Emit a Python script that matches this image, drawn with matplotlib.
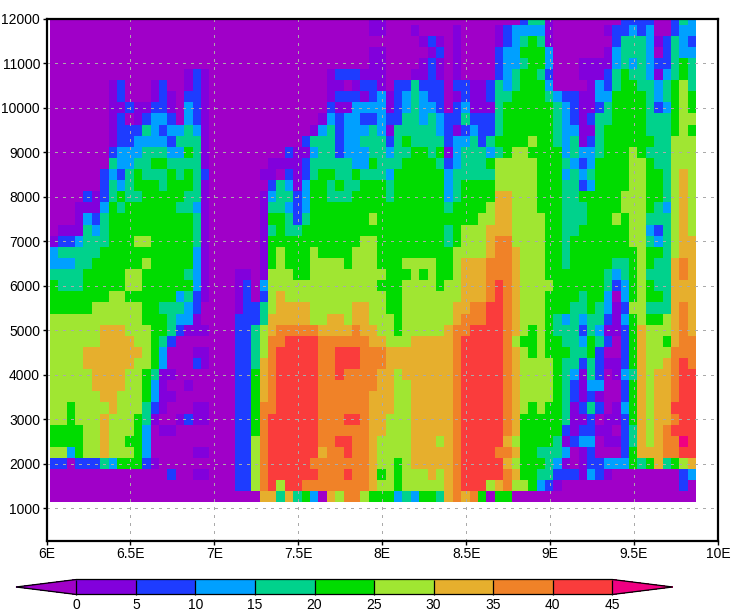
import numpy as np
import matplotlib
matplotlib.use('Agg')
import matplotlib.pyplot as plt
from matplotlib.colors import ListedColormap, BoundaryNorm

plt.rcParams['font.family'] = ['Liberation Sans Narrow', 'Liberation Sans']

# contour levels and colours (GrADS rainbow)
levels = [0, 5, 10, 15, 20, 25, 30, 35, 40, 45]
colors = ['#8200dc', '#1e3cff', '#00a0ff', '#00d28c', '#00dc00',
          '#a0e632', '#e6af2d', '#f08228', '#fa3c3c']
color_under = '#a000c8'
color_over = '#f00082'

lon_edges = 6.02 + 0.05 * np.arange(78)
height_edges = 12125 - 250 * np.arange(45)

# one row per height, top row first, written as "column:class" where the class changes
# class 0 is below 0, class 1 is 0-5, ... class 10 is above 45
rows = [
    "0:0 38:1 40:0 56:2 57:4 59:1 60:0 68:2 72:0 74:2 75:4 76:3",
    "0:0 38:1 40:0 43:1 44:0 48:1 49:0 53:1 54:2 55:3 59:1 60:0 66:1 67:2 69:3 70:2 71:3 72:0 74:2 75:3",
    "0:0 44:1 45:2 46:1 47:0 48:1 49:0 53:1 54:2 55:3 56:4 57:5 58:4 59:1 60:0 67:2 68:4 71:3 72:1 73:2 74:4 75:3 76:2",
    "0:0 38:1 40:0 45:1 46:2 47:0 48:1 49:0 53:2 54:3 56:5 59:3 60:0 66:1 67:3 68:4 71:3 72:0 73:2 74:4 75:3",
    "0:0 38:1 40:0 44:1 45:2 46:1 47:0 48:1 49:0 53:2 54:3 56:4 57:5 59:3 60:0 63:1 67:3 68:4 69:3 70:4 71:3 72:2 74:4 75:5 76:4",
    "0:0 16:1 17:2 18:1 19:0 33:1 34:2 37:1 40:0 43:1 45:2 46:1 47:0 48:1 49:0 53:2 54:3 55:4 56:5 58:4 59:2 60:0 63:1 66:2 67:4 68:5 69:4 71:3 72:1 73:3 74:4 75:5 76:4",
    "0:0 7:1 8:2 9:0 12:1 13:2 14:0 16:1 17:2 18:1 19:0 33:1 35:0 36:1 37:2 39:1 40:0 41:2 43:4 44:2 47:0 48:2 50:1 52:2 53:4 54:3 55:4 56:5 59:3 60:0 64:1 65:3 66:2 67:4 68:5 70:4 72:3 73:4 74:5 75:6 76:4",
    "0:0 7:1 8:2 9:0 12:1 13:2 14:1 15:0 16:2 18:1 19:0 33:1 34:2 37:1 38:2 39:3 40:1 41:2 42:3 43:4 44:3 45:2 47:0 48:1 49:2 50:1 52:2 53:4 55:5 59:4 60:3 61:2 63:1 65:3 67:5 71:4 72:3 73:4 74:5 75:6 76:5",
    "0:0 7:1 9:2 10:1 12:2 14:1 15:0 16:3 17:2 18:1 19:0 33:2 34:1 36:3 40:1 41:2 42:3 43:4 44:3 46:2 47:0 48:2 49:3 50:1 53:4 54:5 60:4 61:3 62:2 63:1 65:2 66:4 67:5 71:4 72:2 73:3 74:5 75:6 76:5",
    "0:0 7:1 8:2 9:0 10:1 11:2 12:3 14:2 15:0 16:3 17:2 18:1 19:0 32:1 33:3 34:2 35:3 37:2 39:3 40:2 42:4 44:3 45:4 46:3 47:2 49:4 50:2 53:4 54:5 60:4 61:3 62:2 63:1 64:2 65:4 67:5 71:4 74:5 75:6",
    "0:0 7:1 8:2 11:4 12:3 13:2 14:3 16:4 17:3 18:1 19:0 31:1 32:3 33:4 34:2 35:3 38:4 39:3 40:1 41:4 46:3 47:2 48:1 49:2 50:3 51:2 53:4 54:5 60:4 61:3 63:1 65:4 66:5 71:4 74:5 75:6 76:5",
    "0:0 7:1 8:2 10:3 14:2 15:4 18:1 19:0 30:2 31:4 34:2 35:3 37:4 40:2 41:4 42:5 43:4 47:2 48:3 50:4 51:2 52:4 53:5 57:6 58:5 60:4 61:3 62:4 63:1 64:2 65:4 66:5 72:4 74:6",
    "0:0 7:2 8:3 11:4 14:3 16:5 17:4 18:1 19:0 28:2 29:1 31:3 32:4 34:2 35:3 38:4 40:3 41:4 43:5 45:4 46:5 47:1 48:3 49:4 52:3 53:4 54:5 55:6 57:5 61:3 62:4 63:3 65:4 66:5 69:6 70:5 71:4 74:6",
    "0:0 7:4 8:3 10:4 12:5 14:4 18:1 19:0 26:1 30:2 31:4 36:3 38:5 39:4 42:5 46:4 47:2 48:3 49:4 52:5 53:6 58:5 61:4 62:3 63:2 64:3 65:5 69:6 71:5 72:4 74:6",
    "0:0 6:2 7:3 8:2 9:4 10:5 11:4 14:5 15:4 16:5 17:4 18:2 19:0 25:1 27:0 28:2 29:1 30:2 31:4 32:5 34:4 36:5 37:4 40:3 41:5 47:3 48:4 53:6 58:5 61:3 62:4 63:3 64:4 65:5 69:6 71:5 73:4 74:6 75:7 76:6",
    "0:0 6:2 7:4 8:3 9:4 10:5 13:4 14:5 17:4 18:1 19:0 26:2 27:4 28:3 29:1 30:3 31:5 33:4 34:5 35:4 37:5 40:4 41:5 47:3 48:4 49:5 53:6 58:5 61:4 63:2 64:3 65:5 69:6 71:5 73:4 74:6 75:7 76:6",
    "0:0 4:2 5:1 6:2 7:4 8:5 9:4 11:5 16:4 18:1 19:0 25:1 26:3 27:4 29:2 30:3 31:5 33:4 36:5 40:4 41:5 47:3 48:4 49:5 53:7 55:6 58:5 61:4 63:5 68:6 71:5 73:4 74:6 75:7 76:6",
    "0:0 3:1 6:3 7:5 8:4 9:5 15:4 17:3 18:1 19:0 25:1 26:4 28:3 29:2 30:3 31:5 47:4 48:5 52:6 53:7 55:6 58:5 61:4 64:5 68:6 71:5 72:4 73:3 74:6 75:7 76:6",
    "0:0 3:1 4:3 5:2 6:4 7:5 17:4 18:1 19:0 25:1 26:5 28:4 29:2 30:4 31:5 38:6 39:5 51:6 53:7 55:6 59:5 61:4 64:5 67:6 68:5 69:6 71:4 74:6 75:7 76:6",
    "0:0 1:1 4:4 5:3 6:4 7:5 17:4 18:1 19:0 25:1 26:4 27:5 28:4 30:5 47:4 48:5 49:6 52:7 55:6 59:5 61:4 63:5 69:6 71:3 72:2 73:4 74:6 75:7 76:6",
    "0:1 1:2 3:3 4:4 7:5 10:6 12:5 17:4 18:1 19:0 25:1 26:5 37:6 39:5 47:4 48:5 49:6 52:7 53:8 55:6 59:5 61:4 62:5 69:6 71:4 72:3 73:4 74:6 75:7",
    "0:3 1:4 6:5 17:3 18:1 19:0 25:1 26:5 27:6 28:5 31:6 32:5 36:6 39:5 48:6 52:7 53:8 55:7 56:6 59:5 61:4 62:5 70:6 71:5 73:4 74:6 75:7",
    "0:3 3:4 5:5 11:6 12:5 17:3 18:1 19:0 25:1 26:5 27:6 28:5 31:6 35:5 36:6 39:5 42:6 46:5 48:6 49:7 52:8 55:7 56:6 59:5 61:4 62:5 67:4 69:5 70:6 71:5 72:4 74:7 75:8 76:7",
    "0:4 4:5 9:6 11:5 16:4 17:3 18:1 19:0 22:1 24:0 25:1 26:6 29:5 31:6 40:5 43:6 44:5 45:6 46:5 48:6 49:7 52:8 55:7 56:6 59:5 66:4 67:3 68:4 69:5 70:6 71:4 74:7 75:8 76:7",
    "0:5 1:4 4:5 9:6 11:5 17:3 18:1 19:0 22:1 23:2 24:0 25:3 26:6 39:5 42:6 46:5 47:6 49:7 52:8 53:9 54:8 55:7 56:6 60:5 66:4 67:2 68:3 69:5 70:6 71:5 72:4 74:7",
    "0:5 7:6 9:5 15:3 16:4 17:2 18:1 19:0 22:1 23:2 24:0 25:2 26:6 27:7 28:6 40:5 42:6 49:7 52:8 53:9 54:8 55:7 56:6 59:5 63:4 64:5 66:3 67:0 68:3 69:5 70:6 71:5 73:4 74:7",
    "0:5 5:6 11:5 13:4 16:3 17:2 18:0 22:1 23:2 25:4 26:6 27:7 31:6 36:7 38:6 40:5 42:6 48:7 50:8 52:9 54:8 55:7 56:6 59:5 62:4 64:5 65:4 66:3 67:1 68:2 69:6 71:4 74:7 75:8 76:7",
    "0:6 11:5 14:4 15:3 17:1 18:0 22:2 25:4 26:7 31:6 33:7 35:6 36:7 38:6 41:5 42:6 48:7 49:8 52:9 54:8 55:7 56:6 59:5 60:4 61:3 62:4 63:3 64:4 66:2 67:1 68:3 69:5 70:6 71:5 73:6 74:7 75:8 76:7",
    "0:6 6:7 9:6 12:5 14:4 15:2 16:1 19:0 22:2 24:4 25:6 26:7 27:8 32:7 36:8 37:7 39:6 41:5 42:6 47:7 48:8 50:9 54:8 55:7 56:6 57:5 58:6 59:5 60:4 63:2 64:4 65:3 66:1 68:2 69:5 70:7 71:6 74:7 75:8 76:7",
    "0:6 6:7 10:6 12:5 13:4 14:2 15:0 22:2 24:4 25:6 26:8 28:9 32:8 38:7 40:6 43:7 48:8 49:9 54:8 55:6 56:5 58:6 59:5 61:4 63:3 64:5 65:4 66:2 67:0 68:2 69:5 70:7 71:6 73:5 74:7 75:8",
    "0:6 4:7 11:6 12:5 13:3 14:0 17:1 19:0 22:2 24:4 25:6 26:8 27:9 32:8 34:9 37:8 40:7 48:8 49:9 54:8 55:7 56:6 57:5 58:6 59:5 62:4 64:5 65:2 66:0 68:2 69:5 70:7 71:6 74:8",
    "0:6 4:7 10:6 12:5 13:3 14:0 17:2 18:1 19:0 22:2 24:4 25:7 26:8 27:9 32:8 34:9 37:8 40:7 48:8 49:9 54:8 55:7 56:6 60:5 61:4 63:2 64:4 65:2 66:1 68:2 69:5 70:7 71:6 73:7 74:8 75:9 76:8",
    "0:6 5:7 9:6 11:5 12:4 13:1 15:0 22:2 24:5 25:7 26:8 27:9 32:8 34:9 35:8 39:7 41:6 42:7 48:8 49:9 54:8 55:7 56:6 60:5 61:4 62:3 63:1 64:4 65:2 66:0 67:1 68:3 69:4 70:7 71:6 72:7 74:8 75:9",
    "0:6 5:7 9:6 11:5 12:3 13:1 14:0 16:1 17:0 22:2 24:5 25:7 26:8 27:9 32:8 39:7 41:6 43:7 48:8 49:9 54:8 55:7 56:6 60:5 61:4 62:2 63:1 64:3 66:0 68:2 69:5 70:7 71:6 72:7 74:8 75:9",
    "0:6 6:7 8:6 11:5 12:3 13:1 15:0 22:2 24:5 25:7 26:8 27:9 32:8 38:7 41:6 43:7 48:8 49:9 54:8 55:7 56:6 60:5 61:4 62:2 63:1 64:2 65:1 66:0 68:2 69:5 70:7 71:6 72:7 74:8 75:9",
    "0:6 2:5 3:6 7:7 8:6 11:4 12:2 13:1 14:0 17:1 19:0 22:2 24:5 25:8 27:9 32:8 38:7 41:6 43:7 48:8 49:9 54:8 55:7 56:6 57:5 58:6 59:5 61:4 62:1 63:2 64:4 65:2 66:0 67:1 68:3 69:5 70:7 71:6 72:7 74:9",
    "0:6 2:5 3:6 6:7 7:6 10:5 11:4 12:1 13:0 15:1 16:2 17:1 19:0 22:2 24:5 25:8 26:9 32:8 35:9 37:8 38:7 40:6 43:7 48:8 49:9 54:8 55:7 56:5 61:4 62:1 64:2 65:0 66:1 68:2 69:5 70:7 71:6 72:7 74:8 75:9",
    "0:5 4:6 6:7 7:6 10:5 11:3 12:0 13:1 15:0 22:2 24:5 25:8 26:9 32:8 38:7 40:6 43:7 48:8 49:9 54:8 55:7 56:5 61:2 62:1 63:2 65:1 67:0 68:2 69:4 70:7 71:6 72:7 73:8 74:9",
    "0:5 4:6 6:7 7:6 9:5 11:3 12:0 22:2 24:6 25:8 26:9 32:8 34:9 36:8 38:7 39:6 43:7 46:6 47:7 48:8 49:9 54:7 55:6 56:5 60:4 61:1 62:2 63:3 65:0 66:1 68:2 69:4 70:7 71:6 72:7 73:8 75:10 76:9",
    "0:6 2:3 3:5 4:6 6:7 7:6 10:5 11:3 12:0 17:1 19:0 22:2 24:6 25:8 26:9 32:7 33:8 35:9 36:8 38:7 39:6 43:7 48:8 49:9 53:8 55:7 56:5 58:4 61:3 62:0 63:1 64:2 65:0 68:2 69:5 70:7 73:8 75:9",
    "0:2 2:0 3:2 6:4 7:3 8:5 11:2 12:1 13:0 22:2 24:6 25:8 26:9 31:8 38:7 39:6 41:5 42:6 43:7 48:8 49:9 54:7 55:6 56:5 59:4 60:3 61:1 62:0 63:1 64:2 66:3 69:5 70:4 71:5 72:7 73:4 74:5 75:6 76:7",
    "0:0 14:2 15:0 17:1 19:0 22:2 24:6 25:8 26:9 32:8 35:9 36:8 38:7 39:5 40:6 41:5 42:6 45:7 46:6 47:7 48:8 49:9 54:8 55:7 56:5 58:4 60:2 63:1 64:3 65:2 66:1 67:0 75:2 76:3",
    "0:0 22:2 24:6 25:8 26:9 27:6 28:9 30:8 38:7 39:6 41:5 42:6 47:7 48:8 49:9 52:6 53:7 54:8 55:6 57:5 58:3 59:2 60:1 61:0 75:2 76:0",
    "0:0 25:7 27:4 28:7 29:4 30:5 31:3 32:0 33:7 34:6 35:8 37:6 38:5 41:3 42:4 43:3 44:5 46:4 47:7 48:8 49:7 50:8 51:5 52:0 53:5 55:0",
]


def expand(row, n=77):
    out = np.zeros(n)
    for tok in row.split():
        col, cls = tok.split(':')
        out[int(col):] = int(cls) * 5 - 2.5
    return out


values = np.array([expand(r) for r in rows])

cmap = ListedColormap(colors)
cmap.set_under(color_under)
cmap.set_over(color_over)
norm = BoundaryNorm(levels, cmap.N)

W, H = 738, 612
fig = plt.figure(figsize=(W / 100, H / 100), dpi=100)
ax = fig.add_axes([46.5 / W, 1 - 541 / H, 671.5 / W, 522 / H])
mesh = ax.pcolormesh(lon_edges, height_edges, values, cmap=cmap, norm=norm,
                     antialiased=False, linewidth=0, rasterized=True)

ax.set_xlim(6, 10)
ax.set_ylim(258, 12000)
ax.set_xticks(np.arange(6, 10.1, 0.5))
ax.set_xticklabels(['6E', '6.5E', '7E', '7.5E', '8E', '8.5E', '9E', '9.5E', '10E'])
ax.set_yticks(np.arange(1000, 12001, 1000))
ax.tick_params(axis='x', length=2.6, width=1, labelsize=10, pad=1.5)
ax.tick_params(axis='y', length=2.6, width=1, labelsize=10, pad=2)
ax.set_axisbelow(False)
ax.grid(True, color='#aaaaaa', lw=0.72, linestyle=(0, (2.5, 5.5)), antialiased=False)
for s in ax.spines.values():
    s.set_linewidth(1.6)
    s.set_zorder(5)

# colour bar underneath, the box includes the two end triangles
cax = fig.add_axes([16 / W, 1 - 594.5 / H, 656.7 / W, 15 / H])
cb = fig.colorbar(mesh, cax=cax, orientation='horizontal', extend='both',
                  extendfrac=(60.3 / 536, 60.4 / 536), drawedges=True, ticks=levels)
cb.outline.set_linewidth(0.9)
cb.dividers.set_linewidth(0.9)
cax.tick_params(length=0, labelsize=10, pad=2.5)

fig.savefig('out.png', dpi=100)
